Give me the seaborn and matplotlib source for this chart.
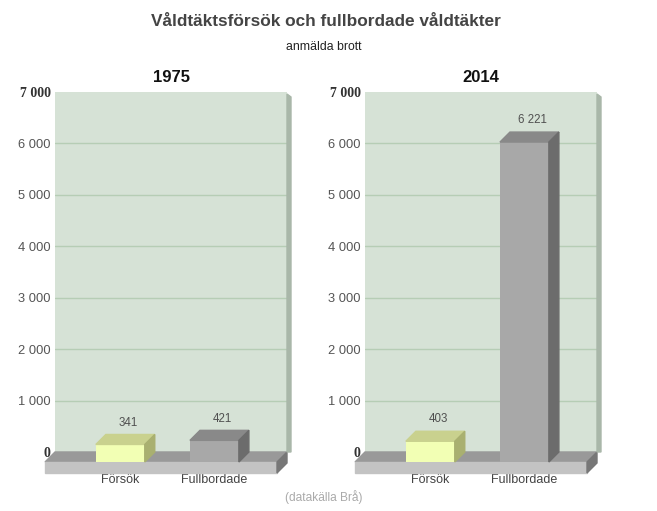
import numpy as np
import pandas as pd
import matplotlib
matplotlib.use("Agg")
import matplotlib.pyplot as plt
import seaborn as sns
from matplotlib.patches import Polygon
from matplotlib.transforms import ScaledTranslation, IdentityTransform

# data
years = ["1975", "2014"]
categories = ["Försök", "Fullbordade"]
values_1975 = [341, 421]
values_2014 = [403, 6221]
value_labels_1975 = ["341", "421"]
value_labels_2014 = ["403", "6 221"]
yticks = [0, 1000, 2000, 3000, 4000, 5000, 6000, 7000]
ytick_labels = ["0", "1 000", "2 000", "3 000", "4 000", "5 000", "6 000", "7 000"]

sns.set_theme(style="white")
plt.rcParams["font.family"] = ["Liberation Sans", "DejaVu Sans"]

WALL = "#d6e2d6"
GRID = "#b6cdb5"
FRONT = ["#f2ffb4", "#a8a8a8"]
TOP = ["#c9d18e", "#898989"]
SIDE = ["#a9b070", "#6c6c6c"]
D = 10  # depth of the 3d effect in pixels

fig = plt.figure(figsize=(6.57, 5.11), dpi=100)
W, H = 657, 511
dpi = fig.dpi

fig.text(326 / W, 1 - 22 / H, "Våldtäktsförsök och fullbordade våldtäkter",
         ha="center", va="center", fontsize=12.4, fontweight="bold", color="#444444")
fig.text(324 / W, 1 - 47 / H, "anmälda brott", ha="center", va="center",
         fontsize=8.8, color="#222222")
fig.text(324 / W, 1 - 497 / H, "(datakälla Brå)", ha="center", va="center",
         fontsize=8.6, color="#aaaaaa")

panels = [(55, values_1975, value_labels_1975), (365, values_2014, value_labels_2014)]

for (left_px, vals, vlabels), year in zip(panels, years):
    ax = fig.add_axes([left_px / W, 1 - 452 / H, 232 / W, 360 / H])
    df = pd.DataFrame({"kategori": categories, "antal": vals})
    sns.barplot(data=df, x="kategori", y="antal", hue="kategori", palette=FRONT,
                saturation=1, width=0.52, legend=False, ax=ax)
    bars = [p for c in ax.containers for p in c]
    bars = sorted(bars, key=lambda p: p.get_x())

    ax.set_xlim(-0.80, 1.665)
    ax.set_ylim(0, 7000)
    ax.set_facecolor(WALL)
    for s in ax.spines.values():
        s.set_visible(False)
    ax.set_axisbelow(True)
    ax.yaxis.grid(True, color=GRID, lw=1)
    ax.set_yticks(yticks)
    ax.set_yticklabels(ytick_labels)
    ax.tick_params(axis="y", length=0, pad=3, labelsize=9.3, labelcolor="#555555")
    for lab, t in zip(ax.get_yticklabels(), yticks):
        if t in (0, 7000):
            lab.set_fontfamily("Liberation Serif")
            lab.set_fontweight("bold")
            lab.set_fontsize(10)
            lab.set_color("#333333")
    ax.get_ygridlines()[-1].set_visible(False)
    ax.tick_params(axis="x", length=0, pad=16, labelsize=9, labelcolor="#444444")
    for lab in ax.get_xticklabels():
        lab.set_transform(lab.get_transform() + ScaledTranslation(-D / dpi, 0, fig.dpi_scale_trans))
    ax.set_xlabel("")
    ax.set_ylabel("")
    ax.set_title(year, fontsize=12, fontweight="bold", color="#111111", pad=7)

    # wall side, floor
    l, y0 = ax.transAxes.transform((0, 0))
    r, yt = ax.transAxes.transform((1, 1))
    ident = IdentityTransform()
    fig.patches.append(Polygon([(r, yt - 2), (r + 4, yt - 5), (r + 4, y0), (r, y0)],
                               transform=ident, color="#a9b7a9", zorder=1))
    T = 11
    floor = [
        ([(l, y0), (r, y0), (r - D, y0 - D), (l - D, y0 - D)], "#999999"),
        ([(l - D, y0 - D), (r - D, y0 - D), (r - D, y0 - D - T), (l - D, y0 - D - T)], "#c3c3c3"),
        ([(r - D, y0 - D), (r, y0), (r, y0 - T), (r - D, y0 - D - T)], "#777777"),
    ]
    for pts, c in floor:
        ax.add_patch(Polygon(pts, transform=ident, color=c, clip_on=False, zorder=2))

    shift = ax.transData + ScaledTranslation(-D / dpi, -D / dpi, fig.dpi_scale_trans)
    for i, p in enumerate(bars):
        x0 = p.get_x()
        x1 = x0 + p.get_width()
        h = p.get_height()
        p.set_transform(shift)
        p.set_clip_on(False)
        p.set_edgecolor("none")
        p.set_zorder(4)
        tl = ax.transData.transform((x0, h))
        tr = ax.transData.transform((x1, h))
        br = ax.transData.transform((x1, 0))
        off = np.array([-D, -D])
        ax.add_patch(Polygon([tl + off, tr + off, tr, tl], transform=ident,
                             color=TOP[i], clip_on=False, zorder=4))
        ax.add_patch(Polygon([tr + off, tr, br, br + off], transform=ident,
                             color=SIDE[i], clip_on=False, zorder=4))
        ax.annotate(vlabels[i], xy=((x0 + x1) / 2, h), xytext=(-1.5, 8.5),
                    textcoords="offset points", ha="center", va="center",
                    fontsize=8.3, color="#505050", annotation_clip=False)

fig.savefig("out.png", dpi=100)
